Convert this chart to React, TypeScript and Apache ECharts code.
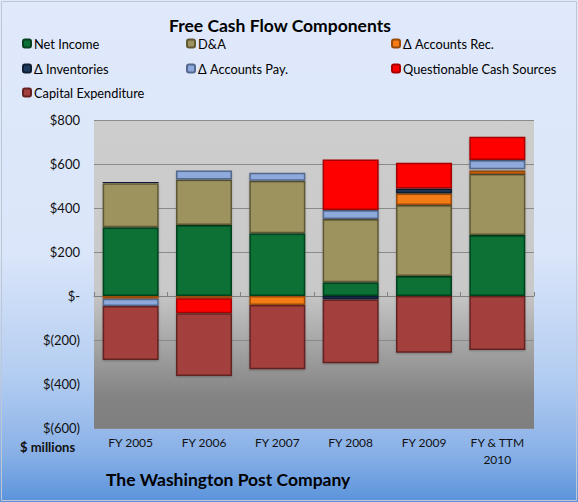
import React, { useEffect, useRef } from "react";
import * as echarts from "echarts";

const categories = ["FY 2005", "FY 2006", "FY 2007", "FY 2008", "FY 2009", "FY & TTM\n2010"];
const netIncome = [312, 323, 285, 62, 91, 277];
const depreciation = [200, 207, 239, 288, 323, 278];
const accountsRec = [-13, -10, -41, 0, 53, 15];
const inventories = [8, 0, 0, -16, 22, 6];
const accountsPay = [-32, 41, 36, 41, 0, 42];
const questionable = [0, -68, 5, 230, 117, 106];
const capex = [-246, -286, -292, -290, -258, -245];

const seriesNames = [
  "Net Income",
  "D&A",
  "Δ Accounts Rec.",
  "Δ Inventories",
  "Δ Accounts Pay.",
  "Questionable Cash Sources",
  "Capital Expenditure",
];
const seriesData = [netIncome, depreciation, accountsRec, inventories, accountsPay, questionable, capex];
const colors = ["#077035", "#9c935f", "#f47c12", "#1f3a5f", "#8ea9db", "#ff0000", "#a33f3c"];
const borders = ["#04421f", "#5f5934", "#9a4b08", "#0f1e33", "#55698f", "#a80000", "#642321"];

const legendPos = [
  [22, 37], [186, 37], [391, 37],
  [22, 62], [186, 62], [391, 62],
  [22, 86],
];

const FONT = "Lato, 'Open Sans', sans-serif";

export default function App() {
  const ref = useRef<HTMLDivElement>(null);
  useEffect(() => {
    const chart = echarts.init(ref.current!, null, { renderer: "svg" });
    const option: any = {
      animation: false,
      backgroundColor: {
        type: "linear", x: 0, y: 0, x2: 0, y2: 1,
        colorStops: [
          { offset: 0, color: "#e0e9fb" },
          { offset: 0.5, color: "#dbe6fa" },
          { offset: 0.75, color: "#b3cdf1" },
          { offset: 0.9, color: "#8ab1e7" },
          { offset: 1, color: "#5a93db" },
        ],
      },
      textStyle: { fontFamily: FONT },
      title: {
        text: "Free Cash Flow Components",
        left: 164,
        top: 11,
        textStyle: { fontSize: 17.5, fontWeight: "bold", color: "#000", fontFamily: FONT },
      },
      legend: seriesNames.map((n, i) => ({
        data: [n],
        left: legendPos[i][0],
        top: legendPos[i][1],
        itemWidth: 8,
        itemHeight: 8,
        itemGap: 3,
        padding: 0,
        textStyle: { fontSize: 12.8, color: "#000", fontFamily: FONT, padding: [0, 0, 0, -2] },
      })),
      grid: {
        left: 94, right: 44, top: 120, bottom: 74,
        show: true, borderWidth: 0,
        backgroundColor: {
          type: "linear", x: 0, y: 0, x2: 0, y2: 1,
          colorStops: [
            { offset: 0, color: "#cdcdcd" },
            { offset: 0.55, color: "#c9c9c9" },
            { offset: 0.9, color: "#838383" },
            { offset: 1, color: "#7f7f7f" },
          ],
        },
      },
      xAxis: [
        {
          type: "category",
          data: categories,
          position: "bottom",
          axisLine: { show: true, onZero: true, lineStyle: { color: "#808080", width: 1 } },
          axisTick: { show: true, inside: true, length: 4, lineStyle: { color: "#808080" } },
          axisLabel: { show: false },
        },
        {
          type: "category",
          data: categories,
          position: "bottom",
          axisLine: { show: false, onZero: false },
          axisTick: { show: false },
          axisLabel: { color: "#111", fontSize: 12, lineHeight: 17, margin: 6, fontFamily: FONT },
        },
      ],
      yAxis: {
        type: "value",
        min: -600,
        max: 800,
        interval: 200,
        axisLine: { show: false },
        axisTick: { show: false },
        splitLine: { lineStyle: { color: "#8a8a8a", width: 1 } },
        axisLabel: {
          color: "#111",
          fontSize: 13,
          margin: 14,
          fontFamily: FONT,
          formatter: (v: number) => (v === 0 ? "$-" : v < 0 ? `$(${-v})` : `$${v}`),
        },
      },
      graphic: [
        {
          type: "rect",
          shape: { x: 1.5, y: 1.5, width: 575, height: 499 },
          style: { fill: "none", stroke: "#bfc7d4", lineWidth: 1 },
          silent: true,
        },
        {
          type: "text",
          left: 20,
          top: 440,
          style: { text: "$ millions", font: `bold 13px ${FONT}`, fill: "#111" },
        },
        {
          type: "text",
          left: 106,
          top: 470,
          style: { text: "The Washington Post Company", font: `bold 17.5px ${FONT}`, fill: "#000" },
        },
      ],
      series: seriesNames.map((n, i) => ({
        name: n,
        type: "bar",
        stack: "fcf",
        xAxisIndex: 0,
        barWidth: 56,
        data: seriesData[i],
        itemStyle: {
          color: colors[i],
          borderColor: borders[i],
          borderWidth: 1.5,
          shadowColor: "rgba(0,0,0,0.25)",
          shadowBlur: 2,
          shadowOffsetY: 1,
        },
      })),
    };
    chart.setOption(option);
    return () => chart.dispose();
  }, []);
  return (
    <div
      ref={ref}
      style={{ position: "fixed", left: 0, top: 0, width: 578, height: 502 }}
    />
  );
}
